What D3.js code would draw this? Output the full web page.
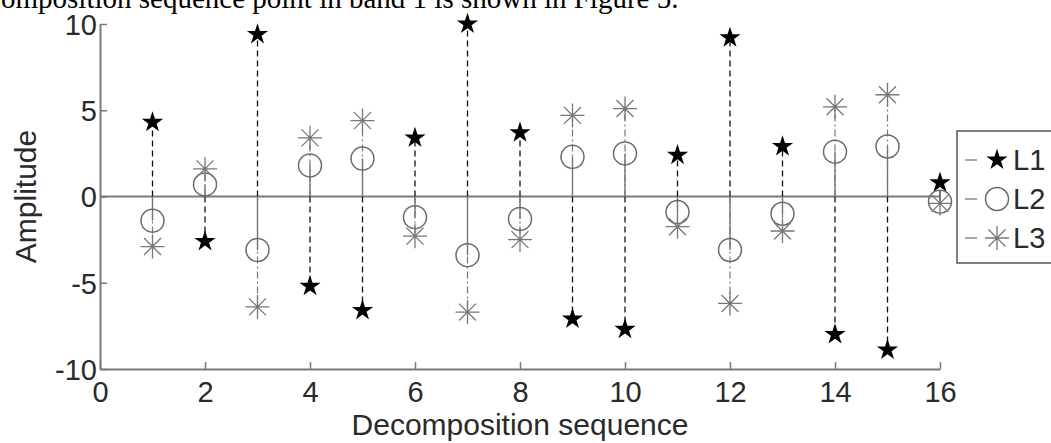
<!DOCTYPE html>
<html>
<head>
<meta charset="utf-8">
<script src="https://cdn.jsdelivr.net/npm/d3@7"></script>
<style>
  html, body { margin: 0; padding: 0; background: #fff; overflow: hidden; }
  svg { display: block; }
</style>
</head>
<body>
<svg id="chart" width="1051" height="443"></svg>
<script>
// decomposition sequence index
let seq = d3.range(1, 17);
let l1 = [4.3, -2.6, 9.4, -5.2, -6.6, 3.4, 10.0, 3.7, -7.1, -7.7, 2.4, 9.2, 2.9, -8.0, -8.9, 0.8];
let l2 = [-1.4, 0.7, -3.1, 1.8, 2.2, -1.2, -3.4, -1.3, 2.3, 2.5, -0.9, -3.1, -1.0, 2.6, 2.9, -0.3];
let l3 = [-2.9, 1.6, -6.4, 3.4, 4.4, -2.3, -6.7, -2.5, 4.7, 5.1, -1.75, -6.2, -2.0, 5.2, 5.9, -0.4];
let seriesNames = ['L1', 'L2', 'L3'];
let xTicks = [0, 2, 4, 6, 8, 10, 12, 14, 16];
let yTicks = [-10, -5, 0, 5, 10];

let svg = d3.select('#chart');
let labelFont = '"Liberation Sans", Arial, sans-serif';
let gray = '#7a7a7a';

let x = d3.scaleLinear().domain([0, 16]).range([100, 940]);
let y = d3.scaleLinear().domain([-10, 10]).range([369, 24]);

// clipped sentence from the surrounding paper
svg.append('text')
    .attr('x', 1)
    .attr('y', 8)
    .attr('font-family', '"Liberation Serif", "Times New Roman", serif')
    .attr('font-size', 29)
    .attr('fill', '#000')
    .text('omposition sequence point in band 1 is shown in Figure 5.');

// axes (ticks point inward, only left and bottom), plain hyphen minus
let fmt = (d) => String(d);
let xAxis = svg.append('g')
    .attr('transform', 'translate(0,' + y(-10) + ')')
    .call(d3.axisBottom(x).tickValues(xTicks).tickFormat(fmt).tickSizeInner(-7).tickSizeOuter(0).tickPadding(12));
let yAxis = svg.append('g')
    .attr('transform', 'translate(' + x(0) + ',0)')
    .call(d3.axisLeft(y).tickValues(yTicks).tickFormat(fmt).tickSizeInner(-7).tickSizeOuter(0).tickPadding(3));

[xAxis, yAxis].forEach((ax) => {
    ax.select('.domain').attr('stroke', gray).attr('stroke-width', 2);
    ax.selectAll('.tick line').attr('stroke', gray).attr('stroke-width', 1.5);
    ax.selectAll('.tick text')
        .attr('font-family', labelFont)
        .attr('font-size', 29)
        .attr('fill', '#2a2a2a');
});
xAxis.selectAll('.tick text').attr('dy', '0.71em');
yAxis.selectAll('.tick text').attr('dy', '0.36em');

// axis titles
svg.append('text')
    .attr('x', x(8))
    .attr('y', 435)
    .attr('text-anchor', 'middle')
    .attr('font-family', labelFont)
    .attr('font-size', 30)
    .attr('fill', '#2a2a2a')
    .text('Decomposition sequence');

svg.append('text')
    .attr('transform', 'translate(36,' + y(0) + ') rotate(-90)')
    .attr('text-anchor', 'middle')
    .attr('font-family', labelFont)
    .attr('font-size', 30)
    .attr('fill', '#2a2a2a')
    .text('Amplitude');

// stem baseline
svg.append('line')
    .attr('x1', x(0)).attr('x2', x(16))
    .attr('y1', y(0)).attr('y2', y(0))
    .attr('stroke', gray)
    .attr('stroke-width', 2);

let styles = [
    { values: l1, stroke: '#111', dash: '6,4', width: 1.3 },
    { values: l2, stroke: '#6a6a6a', dash: null, width: 1.3 },
    { values: l3, stroke: '#7a7a7a', dash: '7,3,2,3', width: 1.2 }
];

function asteriskPath(r) {
    let d = '';
    for (let i = 0; i < 4; i++) {
        let a = i * Math.PI / 4;
        d += 'M' + (-r * Math.cos(a)) + ',' + (-r * Math.sin(a)) + 'L' + (r * Math.cos(a)) + ',' + (r * Math.sin(a));
    }
    return d;
}

let star = d3.symbol().type(d3.symbolStar).size(140)();

function drawMarker(g, i) {
    if (i === 0) {
        g.append('path').attr('d', star).attr('fill', '#000');
    } else if (i === 1) {
        g.append('circle').attr('r', 11.5).attr('fill', 'none').attr('stroke', '#6a6a6a').attr('stroke-width', 1.5);
    } else {
        g.append('path').attr('d', asteriskPath(12)).attr('fill', 'none').attr('stroke', '#777').attr('stroke-width', 1.3);
    }
}

// stems first, then markers on top
styles.forEach((s) => {
    svg.append('g').selectAll('line')
        .data(seq)
        .join('line')
        .attr('x1', (d) => x(d)).attr('x2', (d) => x(d))
        .attr('y1', y(0))
        .attr('y2', (d, i) => y(s.values[i]))
        .attr('stroke', s.stroke)
        .attr('stroke-width', s.width)
        .attr('stroke-dasharray', s.dash);
});

styles.forEach((s, k) => {
    seq.forEach((d, i) => {
        let g = svg.append('g').attr('transform', 'translate(' + x(d) + ',' + y(s.values[i]) + ')');
        drawMarker(g, k);
    });
});

// legend, partly outside the picture on the right
let legend = svg.append('g');
legend.append('rect')
    .attr('x', 957).attr('y', 131)
    .attr('width', 130).attr('height', 132)
    .attr('fill', '#fff')
    .attr('stroke', '#555')
    .attr('stroke-width', 1.5);

seriesNames.forEach((name, k) => {
    let ly = 160 + k * 39;
    legend.append('line')
        .attr('x1', 965).attr('x2', 977)
        .attr('y1', ly).attr('y2', ly)
        .attr('stroke', '#888')
        .attr('stroke-width', 1.5);
    let g = legend.append('g').attr('transform', 'translate(997,' + ly + ')');
    drawMarker(g, k);
    legend.append('text')
        .attr('x', 1013)
        .attr('y', ly)
        .attr('dy', '0.36em')
        .attr('font-family', labelFont)
        .attr('font-size', 29)
        .attr('fill', '#2a2a2a')
        .text(name);
});
</script>
</body>
</html>
